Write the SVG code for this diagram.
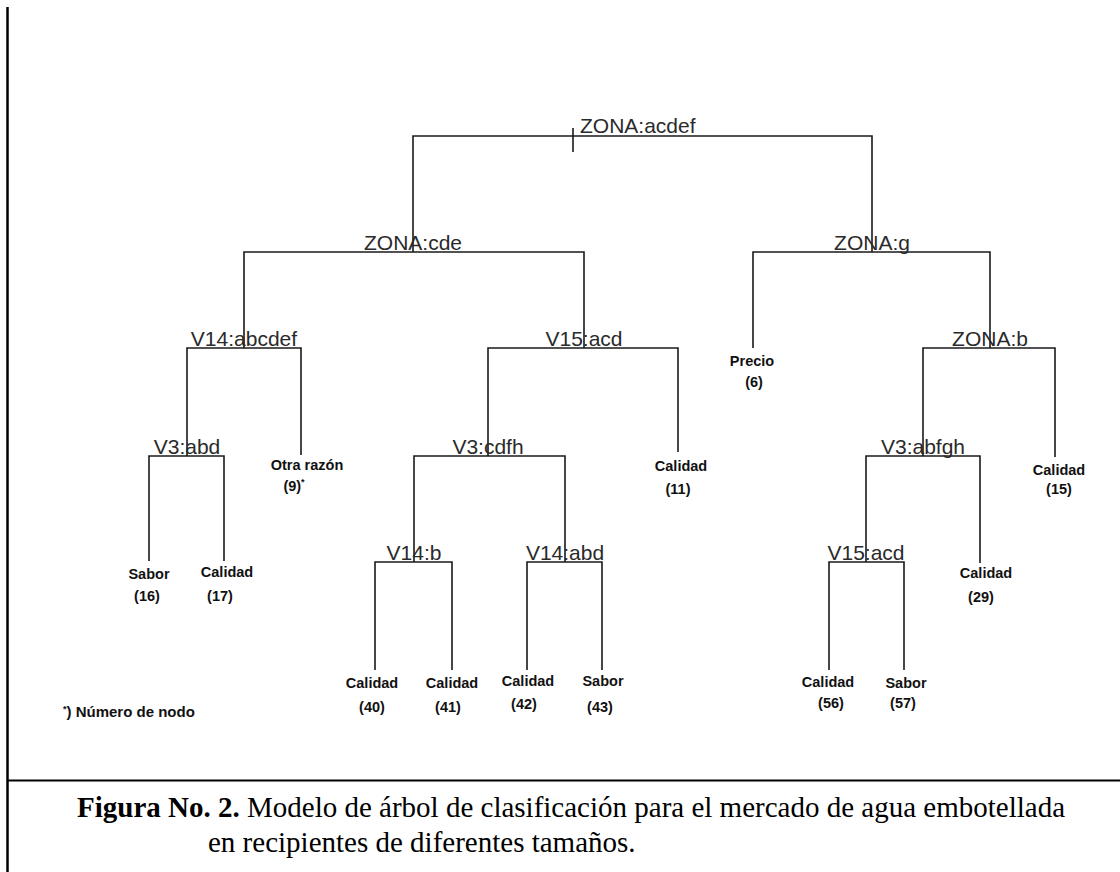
<svg xmlns="http://www.w3.org/2000/svg" width="1120" height="872" viewBox="0 0 1120 872">
<style>
.c{stroke:#1a1a1a;stroke-width:1.6;fill:none}
.s{font-family:"Liberation Sans",Arial,sans-serif;font-size:21px;fill:#2a2a2a;text-anchor:middle}
.l{font-family:"Liberation Sans",Arial,sans-serif;font-size:14.5px;font-weight:bold;fill:#111;text-anchor:middle}
.cap{font-family:"Liberation Serif","Times New Roman",serif;font-size:29px;fill:#000}
.frame{stroke:#000;fill:none}
</style>
<rect x="0" y="0" width="1120" height="872" fill="#fff"/>
<g id="frame">
<line class="frame" x1="7.5" y1="7" x2="7.5" y2="872" stroke-width="2.5"/>
<line class="frame" x1="7" y1="780.5" x2="1120" y2="780.5" stroke-width="2"/>
</g>
<g id="connectors">
<path class="c" d="M573 128V152"/>
<path class="c" d="M413 252V136H872V252"/>
<path class="c" d="M244 348V252H584V348"/>
<path class="c" d="M753 348V252H990V348"/>
<path class="c" d="M187 456V348H301V455"/>
<path class="c" d="M488 456V348H678V452"/>
<path class="c" d="M923 456V348H1055V457"/>
<path class="c" d="M149 561V456H224V561"/>
<path class="c" d="M414 562V456H565V562"/>
<path class="c" d="M866 562V456H980V563"/>
<path class="c" d="M375 670V562H452V670"/>
<path class="c" d="M527 670V562H602V670"/>
<path class="c" d="M829 670V562H904V670"/>
</g>
<g id="n1"><text class="s" x="580" y="133" style="text-anchor:start">ZONA:acdef</text></g>
<g id="n2"><text class="s" x="413" y="250">ZONA:cde</text></g>
<g id="n3"><text class="s" x="872" y="250">ZONA:g</text></g>
<g id="n4"><text class="s" x="244" y="346">V14:abcdef</text></g>
<g id="n5"><text class="s" x="584" y="346">V15:acd</text></g>
<g id="n6"><text class="l" x="752" y="366">Precio</text><text class="l" x="754" y="387">(6)</text></g>
<g id="n7"><text class="s" x="990" y="346">ZONA:b</text></g>
<g id="n8"><text class="s" x="187" y="454">V3:abd</text></g>
<g id="n9"><text class="l" x="307" y="470">Otra razón</text><text class="l" x="294" y="491">(9)<tspan font-size="9" dy="-6">*</tspan></text></g>
<g id="n10"><text class="s" x="488" y="454">V3:cdfh</text></g>
<g id="n11"><text class="l" x="681" y="471">Calidad</text><text class="l" x="678" y="494">(11)</text></g>
<g id="n14"><text class="s" x="923" y="454">V3:abfgh</text></g>
<g id="n15"><text class="l" x="1059" y="475">Calidad</text><text class="l" x="1059" y="494">(15)</text></g>
<g id="n16"><text class="l" x="149" y="579">Sabor</text><text class="l" x="147" y="601">(16)</text></g>
<g id="n17"><text class="l" x="227" y="577">Calidad</text><text class="l" x="220" y="601">(17)</text></g>
<g id="n20"><text class="s" x="414" y="560">V14:b</text></g>
<g id="n21"><text class="s" x="565" y="560">V14:abd</text></g>
<g id="n28"><text class="s" x="866" y="560">V15:acd</text></g>
<g id="n29"><text class="l" x="986" y="578">Calidad</text><text class="l" x="981" y="602">(29)</text></g>
<g id="n40"><text class="l" x="372" y="688">Calidad</text><text class="l" x="372" y="712">(40)</text></g>
<g id="n41"><text class="l" x="452" y="688">Calidad</text><text class="l" x="448" y="712">(41)</text></g>
<g id="n42"><text class="l" x="528" y="686">Calidad</text><text class="l" x="524" y="709">(42)</text></g>
<g id="n43"><text class="l" x="603" y="686">Sabor</text><text class="l" x="600" y="712">(43)</text></g>
<g id="n56"><text class="l" x="828" y="687">Calidad</text><text class="l" x="831" y="708">(56)</text></g>
<g id="n57"><text class="l" x="906" y="688">Sabor</text><text class="l" x="903" y="708">(57)</text></g>
<g id="footnote"><text class="l" x="63" y="717" style="text-anchor:start;font-size:15px"><tspan font-size="9" dy="-5">*</tspan><tspan dy="5">) Número de nodo</tspan></text></g>
<g id="caption">
<text class="cap" x="77" y="817"><tspan font-weight="bold">Figura No. 2.</tspan> Modelo de árbol de clasificación para el mercado de agua embotellada</text>
<text class="cap" x="208" y="852">en recipientes de diferentes tamaños.</text>
</g>
</svg>
